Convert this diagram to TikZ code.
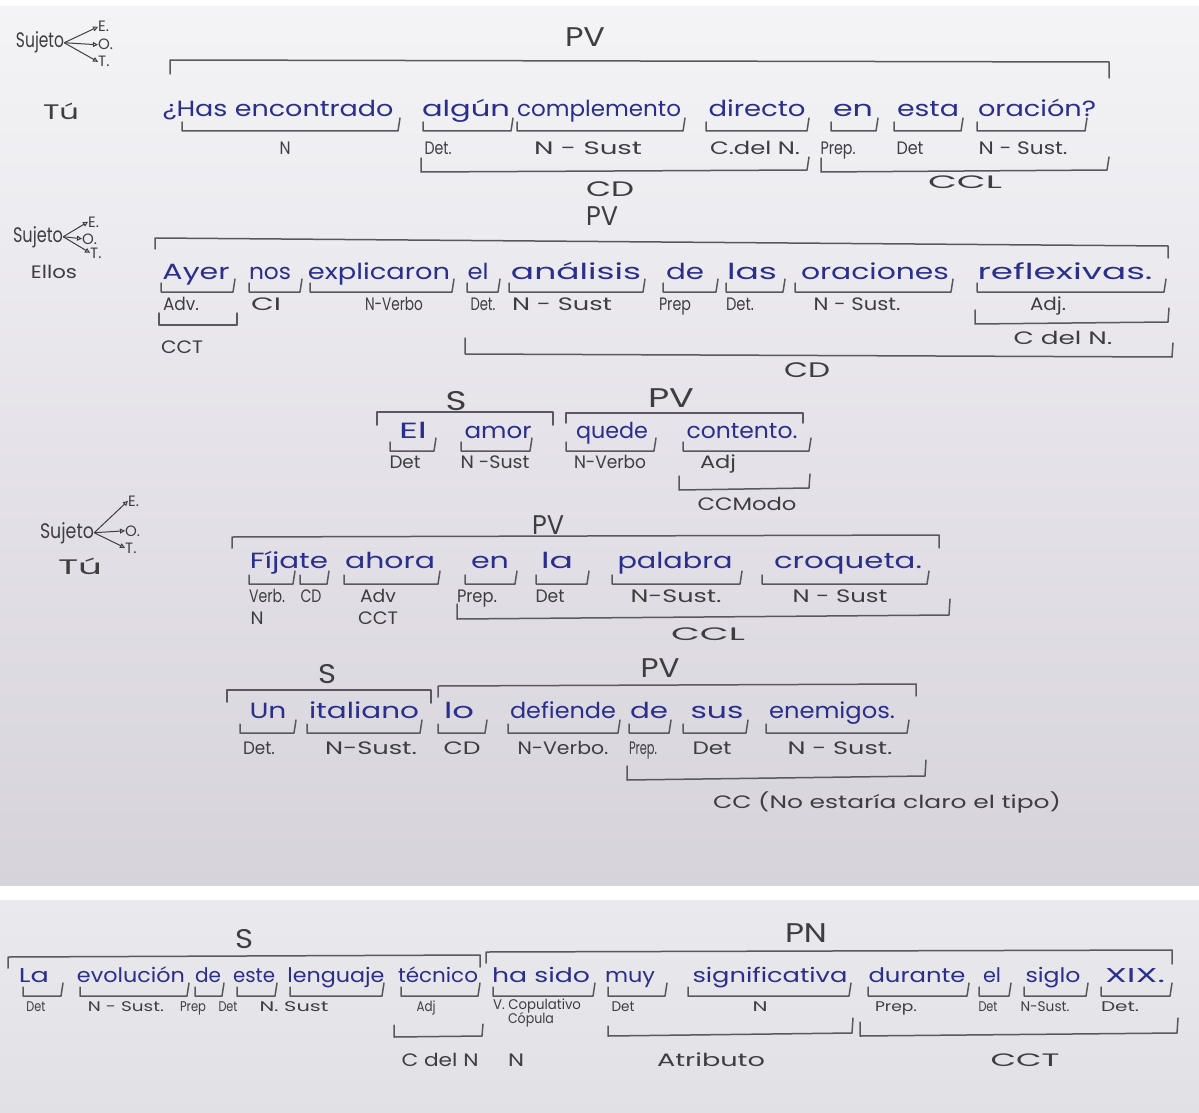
\documentclass[tikz,border=0pt]{standalone}
\usepackage{fontspec}
\setmainfont{Poppins}
\usepackage{graphicx}
\usetikzlibrary{arrows.meta}
\definecolor{ink}{RGB}{42,46,140}
\definecolor{pencil}{RGB}{62,62,66}
\definecolor{brkcol}{RGB}{88,88,94}
\definecolor{paperA}{RGB}{244,244,246}
\definecolor{paperB}{RGB}{229,227,233}
\definecolor{paperC}{RGB}{214,211,219}
\definecolor{paperD}{RGB}{234,233,237}
\definecolor{paperE}{RGB}{225,224,229}
\newcommand\fw[2]{\resizebox{#1pt}{\height}{#2}}
% underbracket: x1, x2, y of line
\newcommand\ub[3]{\draw[brk] (#1,#3-9) -- (#1,#3) -- (#2,#3) -- (#2+2,#3-13);}
\begin{document}
\begin{tikzpicture}[x=1pt,y=-1pt,
  wrd/.style={anchor=base,inner sep=0pt,text=ink,font=\fontsize{22}{24}\selectfont},
  bwrd/.style={anchor=base,inner sep=0pt,text=ink,font=\fontsize{20}{22}\selectfont},
  lab/.style={anchor=base,inner sep=0pt,text=pencil,font=\fontsize{18}{20}\selectfont},
  mlab/.style={anchor=base,inner sep=0pt,text=pencil,font=\fontsize{21}{23}\selectfont},
  slab/.style={anchor=base,inner sep=0pt,text=pencil,font=\fontsize{14}{16}\selectfont},
  big/.style={anchor=base,inner sep=0pt,text=pencil,font=\fontsize{27}{30}\selectfont},
  tiny/.style={anchor=base west,inner sep=0pt,text=pencil,font=\fontsize{15}{17}\selectfont},
  brk/.style={draw=brkcol,line width=1.5pt,line cap=round,line join=round},
  arr/.style={draw=pencil,line width=1pt,-{Triangle[open,length=5pt,width=5pt]}}]
\useasboundingbox (0,0) rectangle (1199,1113);
% paper
\shade[top color=paperA,bottom color=paperC,middle color=paperB] (0,0) rectangle (1199,886);
\fill[white] (0,0) rectangle (1199,6);
\fill[white] (0,886) rectangle (1199,900);
\shade[top color=paperD,bottom color=paperE] (0,900) rectangle (1199,1113);

% ===== Row 1 =====
\node[mlab] (suj1) at (40,48) {\fw{48}{Sujeto}};
\node[tiny] (e1) at (98,32) {E.};
\node[tiny] (o1) at (98,50) {O.};
\node[tiny] (t1) at (98,67) {T.};
\draw[arr] (suj1.east) -- (e1.west);
\draw[arr] (suj1.east) -- (o1.west);
\draw[arr] (suj1.east) -- (t1.west);
\node[mlab] (tu1) at (61,120) {\fw{36}{Tú}};
\node[big] (pv1) at (585,47) {\fw{40}{PV}};
\draw[brk] (170,74) -- (170,60) -- (1109,62) -- (1109,78);
\node[wrd] (w11) at (278,117) {\fw{231}{¿Has encontrado}};
\node[wrd] (w12) at (466,117) {\fw{88}{algún}};
\node[wrd] (w13) at (599,117) {\fw{164}{complemento}};
\node[wrd] (w14) at (757,117) {\fw{97}{directo}};
\node[wrd] (w15) at (853,117) {\fw{40}{en}};
\node[wrd] (w16) at (928,117) {\fw{62}{esta}};
\node[wrd] (w17) at (1037,117) {\fw{118}{oración?}};
\ub{182}{398}{131}\ub{423}{511}{131}\ub{517}{683}{131}\ub{706}{807}{131}
\ub{831}{876}{131}\ub{894}{961}{131}\ub{977}{1085}{131}
\node[lab] (l11) at (285,154) {\fw{11}{N}};
\node[lab] (l12) at (438,154) {\fw{27}{Det.}};
\node[lab] (l13) at (588,154) {\fw{108}{N - Sust}};
\node[lab] (l14) at (755,154) {\fw{90}{C.del N.}};
\node[lab] (l15) at (838,154) {\fw{35}{Prep.}};
\node[lab] (l16) at (910,154) {\fw{27}{Det}};
\node[lab] (l17) at (1023,154) {\fw{89}{N - Sust.}};
\draw[brk] (421,158) -- (421,172) -- (807,170) -- (809,157);
\draw[brk] (821,158) -- (821,172) -- (1107,170) -- (1109,157);
\node[mlab] (cd1) at (610,196) {\fw{48}{CD}};
\node[lab] (ccl1) at (965,188) {\fw{74}{CCL}};

% ===== Row 2 =====
\node[mlab] (suj2) at (38,242) {\fw{50}{Sujeto}};
\node[tiny] (e2) at (88,227) {E.};
\node[tiny] (o2) at (82,244) {O.};
\node[tiny] (t2) at (90,258) {T.};
\draw[arr] (suj2.east) -- (e2.west);
\draw[arr] (suj2.east) -- (o2.west);
\draw[arr] (suj2.east) -- (t2.west);
\node[lab] (ellos) at (54,278) {\fw{46}{Ellos}};
\node[big] (pv2) at (602,225) {\fw{32}{PV}};
\draw[brk] (155,249) -- (155,238) -- (1168,246) -- (1168,258);
\node[wrd] (w21) at (196,279) {\fw{67}{Ayer}};
\node[wrd] (w22) at (270,279) {\fw{42}{nos}};
\node[wrd] (w23) at (379,279) {\fw{142}{explicaron}};
\node[wrd] (w24) at (478,279) {\fw{21}{el}};
\node[wrd] (w25) at (576,279) {\fw{130}{análisis}};
\node[wrd] (w26) at (685,279) {\fw{38}{de}};
\node[wrd] (w27) at (752,279) {\fw{50}{las}};
\node[wrd] (w28) at (875,279) {\fw{148}{oraciones}};
\node[wrd] (w29) at (1065,279) {\fw{175}{reflexivas.}};
\ub{161}{233}{292}\ub{249}{300}{292}\ub{310}{452}{292}\ub{467}{498}{292}
\ub{509}{643}{292}\ub{663}{716}{292}\ub{726}{783}{292}\ub{795}{951}{292}
\ub{977}{1164}{292}
\node[lab] (l21) at (181,310) {\fw{36}{Adv.}};
\node[lab] (l22) at (266,310) {\fw{30}{CI}};
\node[lab] (l23) at (394,310) {\fw{58}{N-Verbo}};
\node[lab] (l24) at (483,310) {\fw{25}{Det.}};
\node[lab] (l25) at (562,310) {\fw{100}{N - Sust}};
\node[lab] (l26) at (675,310) {\fw{32}{Prep}};
\node[lab] (l27) at (740,310) {\fw{28}{Det.}};
\node[lab] (l28) at (857,310) {\fw{87}{N - Sust.}};
\node[lab] (l29) at (1048,310) {\fw{36}{Adj.}};
\draw[brk] (159,313) -- (159,325) -- (237,325) -- (237,313);
\node[lab] (cct2) at (182,353) {\fw{42}{CCT}};
\draw[brk] (975,310) -- (975,324) -- (1168,322) -- (1169,308);
\node[lab] (cdn2) at (1063,344) {\fw{99}{C del N.}};
\draw[brk] (465,338) -- (465,354) -- (1172,357) -- (1173,343);
\node[mlab] (cd2) at (807,377) {\fw{46}{CD}};

% ===== Row 3 =====
\node[big] (s3) at (456,410) {\fw{21}{S}};
\node[big] (pv3) at (671,407) {\fw{46}{PV}};
\draw[brk] (377,425) -- (377,412) -- (553,412) -- (553,425);
\draw[brk] (566,423) -- (566,413) -- (803,413) -- (803,423);
\node[wrd] (w31) at (413,438) {\fw{28}{El}};
\node[wrd] (w32) at (498,438) {\fw{67}{amor}};
\node[wrd] (w33) at (612,438) {\fw{72}{quede}};
\node[wrd] (w34) at (742,438) {\fw{111}{contento.}};
\ub{390}{434}{451}\ub{461}{530}{451}\ub{566}{654}{451}\ub{683}{809}{451}
\node[lab] (l31) at (405,468) {\fw{31}{Det}};
\node[lab] (l32) at (495,468) {\fw{69}{N -Sust}};
\node[lab] (l33) at (610,468) {\fw{72}{N-Verbo}};
\node[lab] (l34) at (718,468) {\fw{36}{Adj}};
\draw[brk] (679,476) -- (679,490) -- (809,488) -- (810,474);
\node[lab] (ccm3) at (747,510) {\fw{99}{CCModo}};

% ===== Row 4 =====
\node[mlab] (suj4) at (67,538) {\fw{54}{Sujeto}};
\node[tiny] (e4) at (128,506) {E.};
\node[tiny] (o4) at (125,536) {O.};
\node[tiny] (t4) at (125,553) {T.};
\draw[arr] (suj4.east) -- (e4.west);
\draw[arr] (suj4.east) -- (o4.west);
\draw[arr] (suj4.east) -- (t4.west);
\node[mlab] (tu4) at (80,574) {\fw{44}{Tú}};
\node[big] (pv4) at (548,534) {\fw{32}{PV}};
\draw[brk] (232,548) -- (232,537) -- (939,535) -- (939,548);
\node[wrd] (w41) at (289,568) {\fw{78}{Fíjate}};
\node[wrd] (w42) at (390,568) {\fw{90}{ahora}};
\node[wrd] (w43) at (490,568) {\fw{38}{en}};
\node[wrd] (w44) at (557,568) {\fw{32}{la}};
\node[wrd] (w45) at (675,568) {\fw{115}{palabra}};
\node[wrd] (w46) at (848,568) {\fw{148}{croqueta.}};
\ub{249}{293}{584}\ub{300}{327}{584}\ub{344}{438}{584}\ub{465}{515}{584}
\ub{536}{587}{584}\ub{612}{740}{584}\ub{762}{927}{584}
\node[lab] (l41) at (267,602) {\fw{36}{Verb.}};
\node[lab] (l42) at (311,602) {\fw{21}{CD}};
\node[lab] (l43) at (378,602) {\fw{36}{Adv}};
\node[lab] (l44) at (477,602) {\fw{40}{Prep.}};
\node[lab] (l45) at (550,602) {\fw{29}{Det}};
\node[lab] (l46) at (676,602) {\fw{91}{N-Sust.}};
\node[lab] (l47) at (840,602) {\fw{95}{N - Sust}};
\node[lab] (l48) at (257,624) {\fw{13}{N}};
\node[lab] (l49) at (378,624) {\fw{40}{CCT}};
\draw[brk] (457,604) -- (457,619) -- (949,615) -- (950,599);
\node[lab] (ccl4) at (708,640) {\fw{74}{CCL}};

% ===== Row 5 =====
\node[big] (s5) at (327,683) {\fw{18}{S}};
\node[big] (pv5) at (660,677) {\fw{39}{PV}};
\draw[brk] (227,702) -- (227,690) -- (431,690) -- (431,703);
\draw[brk] (438,697) -- (438,686) -- (916,684) -- (916,696);
\node[wrd] (w51) at (268,718) {\fw{37}{Un}};
\node[wrd] (w52) at (364,718) {\fw{110}{italiano}};
\node[wrd] (w53) at (459,718) {\fw{30}{lo}};
\node[wrd] (w54) at (563,718) {\fw{106}{defiende}};
\node[wrd] (w55) at (649,718) {\fw{38}{de}};
\node[wrd] (w56) at (717,718) {\fw{53}{sus}};
\node[wrd] (w57) at (832,718) {\fw{126}{enemigos.}};
\ub{240}{294}{733}\ub{307}{420}{733}\ub{438}{485}{733}\ub{508}{618}{733}
\ub{629}{669}{733}\ub{683}{746}{733}\ub{766}{907}{733}
\node[lab] (l51) at (259,754) {\fw{32}{Det.}};
\node[lab] (l52) at (371,754) {\fw{92}{N-Sust.}};
\node[lab] (l53) at (462,754) {\fw{37}{CD}};
\node[lab] (l54) at (563,754) {\fw{91}{N-Verbo.}};
\node[lab] (l55) at (643,754) {\fw{28}{Prep.}};
\node[lab] (l56) at (712,754) {\fw{39}{Det}};
\node[lab] (l57) at (840,754) {\fw{105}{N - Sust.}};
\draw[brk] (627,766) -- (627,780) -- (925,776) -- (926,760);
\node[lab] (cc5) at (887,808) {\fw{348}{CC (No estaría claro el tipo)}};

% ===== Bottom sentence =====
\node[big] (s6) at (244,948) {\fw{18}{S}};
\node[big] (pn6) at (806,942) {\fw{42}{PN}};
\draw[brk] (8,968) -- (8,957) -- (480,955) -- (480,967);
\draw[brk] (486,963) -- (486,952) -- (1172,950) -- (1172,964);
\node[bwrd] (w61) at (34,982) {\fw{30}{La}};
\node[bwrd] (w62) at (131,982) {\fw{108}{evolución}};
\node[bwrd] (w63) at (208,982) {\fw{26}{de}};
\node[bwrd] (w64) at (254,982) {\fw{42}{este}};
\node[bwrd] (w65) at (336,982) {\fw{97}{lenguaje}};
\node[bwrd] (w66) at (438,982) {\fw{80}{técnico}};
\node[bwrd] (w67) at (541,982) {\fw{98}{ha sido}};
\node[bwrd] (w68) at (630,982) {\fw{50}{muy}};
\node[bwrd] (w69) at (770,982) {\fw{155}{significativa}};
\node[bwrd] (w6a) at (917,982) {\fw{97}{durante}};
\node[bwrd] (w6b) at (992,982) {\fw{18}{el}};
\node[bwrd] (w6c) at (1053,982) {\fw{55}{siglo}};
\node[bwrd] (w6d) at (1135,982) {\fw{60}{XIX.}};
\ub{23}{61}{996}\ub{80}{187}{996}\ub{195}{222}{996}\ub{237}{275}{996}
\ub{290}{382}{996}\ub{401}{478}{996}\ub{493}{593}{996}\ub{608}{665}{996}
\ub{688}{849}{996}\ub{868}{967}{996}\ub{979}{1009}{996}\ub{1024}{1086}{996}
\ub{1101}{1170}{996}
\node[slab] (l61) at (36,1011) {\fw{19}{Det}};
\node[slab] (l62) at (126,1011) {\fw{76}{N - Sust.}};
\node[slab] (l63) at (193,1011) {\fw{26}{Prep}};
\node[slab] (l64) at (228,1011) {\fw{19}{Det}};
\node[slab] (l65) at (294,1011) {\fw{69}{N. Sust}};
\node[slab] (l66) at (426,1011) {\fw{19}{Adj}};
\node[slab] (l67) at (537,1009) {\fw{88}{V. Copulativo}};
\node[slab] (l68) at (623,1011) {\fw{23}{Det}};
\node[slab] (l69) at (760,1011) {\fw{15}{N}};
\node[slab] (l6a) at (896,1011) {\fw{42}{Prep.}};
\node[slab] (l6b) at (988,1011) {\fw{19}{Det}};
\node[slab] (l6c) at (1045,1011) {\fw{49}{N-Sust.}};
\node[slab] (l6d) at (1120,1011) {\fw{38}{Det.}};
\node[slab] (cop6) at (531,1023) {\fw{46}{Cópula}};
\draw[brk] (394,1025) -- (394,1037) -- (482,1036) -- (483,1024);
\draw[brk] (608,1026) -- (608,1036) -- (852,1033) -- (853,1018);
\draw[brk] (860,1022) -- (860,1036) -- (1177,1033) -- (1178,1018);
\node[lab] (cdn6) at (440,1066) {\fw{77}{C del N}};
\node[lab] (n6) at (516,1066) {\fw{16}{N}};
\node[lab] (atr6) at (711,1066) {\fw{108}{Atributo}};
\node[lab] (cct6) at (1025,1066) {\fw{69}{CCT}};
\end{tikzpicture}
\end{document}
